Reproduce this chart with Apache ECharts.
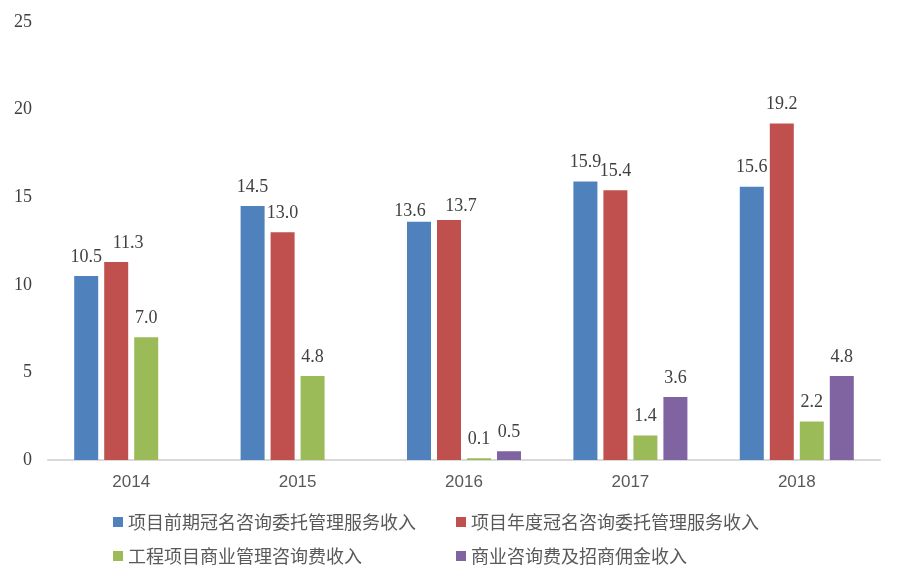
<!DOCTYPE html>
<html>
<head>
<meta charset="utf-8">
<script src="https://cdn.jsdelivr.net/npm/echarts@6/dist/echarts.min.js"></script>
<style>
html, body { margin: 0; padding: 0; background: #fff; }
#main { width: 902px; height: 578px; }
</style>
</head>
<body>
<div id="main"></div>
<script>
var myChart = echarts.init(document.getElementById('main'));

var years = ['2014', '2015', '2016', '2017', '2018'];
var names = [
    '项目前期冠名咨询委托管理服务收入',
    '项目年度冠名咨询委托管理服务收入',
    '工程项目商业管理咨询费收入',
    '商业咨询费及招商佣金收入'
];
var preNaming = [10.5, 14.5, 13.6, 15.9, 15.6];
var yearNaming = [11.3, 13.0, 13.7, 15.4, 19.2];
var engConsult = [7.0, 4.8, 0.1, 1.4, 2.2];
var bizConsult = [null, null, 0.5, 3.6, 4.8];
var colors = ['#4f81bd', '#c0504d', '#9bbb59', '#8064a2'];

var seriesData = [preNaming, yearNaming, engConsult, bizConsult];

// labels nudged apart where they would collide (series index, data index, [dx, dy])
var labelNudges = [
    [1, 0, [12, 0]],
    [0, 2, [-9, 9]],
    [1, 2, [12, 5]]
];

var series = seriesData.map(function (d, i) {
    var items = d.map(function (v, j) {
        var item = { value: v };
        labelNudges.forEach(function (n) {
            if (n[0] === i && n[1] === j) item.label = { offset: n[2] };
        });
        return item;
    });
    return {
        name: names[i],
        type: 'bar',
        data: items,
        barWidth: 24,
        barGap: '25%',
        itemStyle: { color: colors[i] },
        label: {
            show: true,
            position: 'top',
            distance: 10,
            fontFamily: 'Liberation Serif',
            fontSize: 18,
            color: '#404040',
            formatter: function (p) { return p.value == null ? '' : p.value.toFixed(1); }
        }
    };
});

var legendText = {
    fontFamily: 'Noto Sans CJK SC',
    fontSize: 18,
    color: '#595959'
};

option = {
    animation: false,
    grid: { left: 48, right: 22, top: 22, bottom: 118 },
    legend: [{
        data: [names[0], names[2]],
        orient: 'vertical',
        left: 108,
        top: 508,
        itemWidth: 10,
        itemHeight: 10,
        itemGap: 16,
        icon: 'rect',
        textStyle: legendText
    }, {
        data: [names[1], names[3]],
        orient: 'vertical',
        left: 451,
        top: 508,
        itemWidth: 10,
        itemHeight: 10,
        itemGap: 16,
        icon: 'rect',
        textStyle: legendText
    }],
    xAxis: {
        type: 'category',
        data: years,
        axisLine: { lineStyle: { color: '#d9d9d9', width: 2 } },
        axisTick: { show: false },
        axisLabel: {
            margin: 14,
            fontFamily: 'Liberation Sans',
            fontSize: 17,
            color: '#595959'
        }
    },
    yAxis: {
        type: 'value',
        min: 0,
        max: 25,
        interval: 5,
        splitLine: { show: false },
        axisLine: { show: false },
        axisTick: { show: false },
        axisLabel: {
            margin: 16,
            fontFamily: 'Liberation Serif',
            fontSize: 18,
            color: '#404040'
        }
    },
    series: series
};

myChart.setOption(option);
</script>
</body>
</html>
